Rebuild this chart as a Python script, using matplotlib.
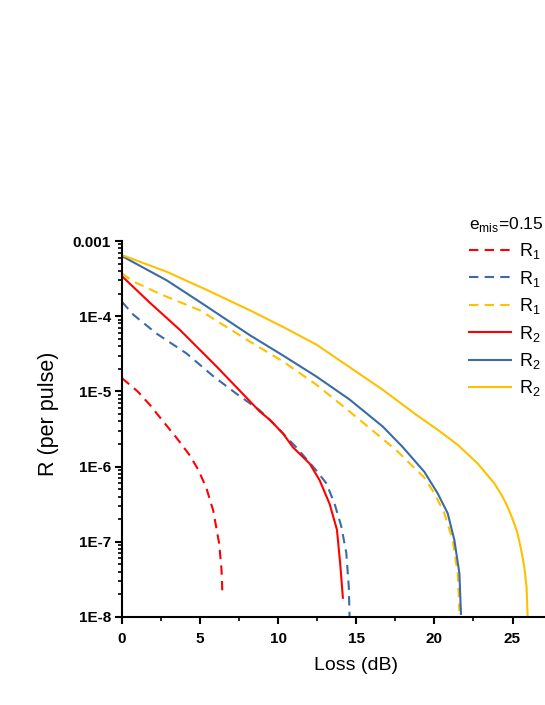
import matplotlib
matplotlib.use("Agg")
import matplotlib.pyplot as plt
from matplotlib.ticker import FixedLocator, FuncFormatter, LogLocator, NullFormatter

plt.rcParams['font.family'] = ['Liberation Sans', 'DejaVu Sans']

# Loss (dB) and R (per pulse)
loss_r1_red = [0, 1.0, 1.79, 2.81, 3.5, 4.35, 4.88, 5.4, 5.84, 6.22, 6.37, 6.43]
r1_red = [1.5e-5, 1.0e-5, 6.6e-6, 3.6e-6, 2.4e-6, 1.4e-6, 9.1e-7, 5.2e-7, 2.6e-7, 9.5e-8,
          4.3e-8, 2.0e-8]

loss_r1_blue = [0, 0.72, 2.2, 4.13, 5.83, 7.33, 8.82, 9.67, 10.31, 11.16, 12.44, 13.08, 13.61,
                14.04, 14.36, 14.52, 14.57]
r1_blue = [1.55e-4, 1.05e-4, 5.9e-5, 3.2e-5, 1.6e-5, 9.3e-6, 5.6e-6, 3.8e-6, 2.75e-6, 1.8e-6,
           8.9e-7, 6.0e-7, 3.2e-7, 1.6e-7, 7.1e-8, 2.5e-8, 1.0e-8]

loss_r1_yellow = [0, 0.72, 2.5, 4.98, 8.18, 10.31, 12.44, 14.57, 17.55, 19.36, 20.0, 20.64,
                  21.17, 21.49, 21.6]
r1_yellow = [3.7e-4, 2.9e-4, 1.95e-4, 1.2e-4, 4.6e-5, 2.5e-5, 1.23e-5, 5.4e-6, 1.66e-6, 7.1e-7,
             4.4e-7, 2.4e-7, 1.05e-7, 3.8e-8, 1.2e-8]

loss_r2_red = [0, 1.8, 3.7, 6.0, 8.82, 9.46, 10.31, 10.95, 12.01, 12.65, 13.29, 13.76, 13.97, 14.14]
r2_red = [3.4e-4, 1.5e-4, 6.6e-5, 2.2e-5, 5.4e-6, 4.2e-6, 2.75e-6, 1.8e-6, 1.1e-6, 6.6e-7,
          3.2e-7, 1.45e-7, 5.1e-8, 1.8e-8]

loss_r2_blue = [0, 2.86, 4.98, 8.18, 10.31, 12.44, 14.57, 16.7, 17.97, 19.36, 20.21, 20.85,
                21.28, 21.6, 21.7]
r2_blue = [6.3e-4, 3.0e-4, 1.55e-4, 5.6e-5, 3.0e-5, 1.58e-5, 7.8e-6, 3.4e-6, 1.82e-6, 8.5e-7,
           4.4e-7, 2.4e-7, 1.05e-7, 3.8e-8, 1.1e-8]

loss_r2_yellow = [0, 2.86, 5.5, 8.18, 10.31, 12.44, 14.57, 16.7, 18.83, 20.2, 21.49, 22.77,
                  23.83, 24.3, 24.68, 25.05, 25.32, 25.55, 25.75, 25.9, 25.97]
r2_yellow = [6.5e-4, 3.9e-4, 2.2e-4, 1.2e-4, 7.2e-5, 4.2e-5, 2.1e-5, 1.05e-5, 4.9e-6, 3.1e-6,
             1.95e-6, 1.1e-6, 6.0e-7, 4.2e-7, 2.95e-7, 1.9e-7, 1.3e-7, 7.9e-8, 4.7e-8,
             2.5e-8, 1.0e-8]

x_ticks = [0, 5, 10, 15, 20, 25]
x_minor = [2.5, 7.5, 12.5, 17.5, 22.5, 27.5]
y_ticks = [1e-8, 1e-7, 1e-6, 1e-5, 1e-4, 1e-3]
y_tick_labels = ['1E-8', '1E-7', '1E-6', '1E-5', '1E-4', '0.001']

red = '#FF0000'
blue = '#3A6BA5'
yellow = '#FFC000'
dash = (4.5, 3.0)

fig = plt.figure(figsize=(5.45, 7.05), dpi=100)
ax = fig.add_axes([122 / 545, 88 / 705, 30 * 15.62 / 545, 376 / 705])

ax.plot(loss_r1_red, r1_red, color=red, lw=1.5, dashes=dash, label='R$_\\mathregular{1}$')
ax.plot(loss_r1_blue, r1_blue, color=blue, lw=1.5, dashes=dash, label='R$_\\mathregular{1}$')
ax.plot(loss_r1_yellow, r1_yellow, color=yellow, lw=1.5, dashes=dash, label='R$_\\mathregular{1}$')
ax.plot(loss_r2_red, r2_red, color=red, lw=1.5, label='R$_\\mathregular{2}$')
ax.plot(loss_r2_blue, r2_blue, color=blue, lw=1.5, label='R$_\\mathregular{2}$')
ax.plot(loss_r2_yellow, r2_yellow, color=yellow, lw=1.5, label='R$_\\mathregular{2}$')

ax.set_yscale('log')
ax.set_xlim(0, 30)
ax.set_ylim(1e-8, 1e-3)

ax.xaxis.set_major_locator(FixedLocator(x_ticks))
ax.xaxis.set_minor_locator(FixedLocator(x_minor))
ax.yaxis.set_major_locator(FixedLocator(y_ticks))
ax.yaxis.set_major_formatter(FuncFormatter(
    lambda v, p: y_tick_labels[y_ticks.index(min(y_ticks, key=lambda t: abs(t - v)))]))
ax.yaxis.set_minor_locator(LogLocator(base=10, subs=range(2, 10)))
ax.yaxis.set_minor_formatter(NullFormatter())

for s in ['top', 'right']:
    ax.spines[s].set_visible(False)
for s in ['left', 'bottom']:
    ax.spines[s].set_linewidth(1.5)

ax.tick_params(which='major', direction='out', length=5, width=1.5, labelsize=11, pad=3)
ax.tick_params(axis='x', which='major', pad=6)
ax.tick_params(which='minor', direction='out', length=3, width=1.2)
for lab in ax.get_xticklabels() + ax.get_yticklabels():
    lab.set_fontweight('bold')

ax.set_xlabel('Loss (dB)', fontsize=14, labelpad=8)
ax.set_ylabel('R (per pulse)', fontsize=15.5)
ax.yaxis.set_label_coords(-0.134, 0.54)

leg = ax.legend(title='e$_\\mathregular{mis}$=0.15', loc='upper left',
                bbox_to_anchor=(469 / 545, 1 - 215 / 705), bbox_transform=fig.transFigure,
                frameon=False, fontsize=13, title_fontsize=12.5, alignment='left',
                handlelength=2.35, handletextpad=0.4, labelspacing=0.41, borderpad=0,
                borderaxespad=0)

fig.savefig('out.png', dpi=100)
